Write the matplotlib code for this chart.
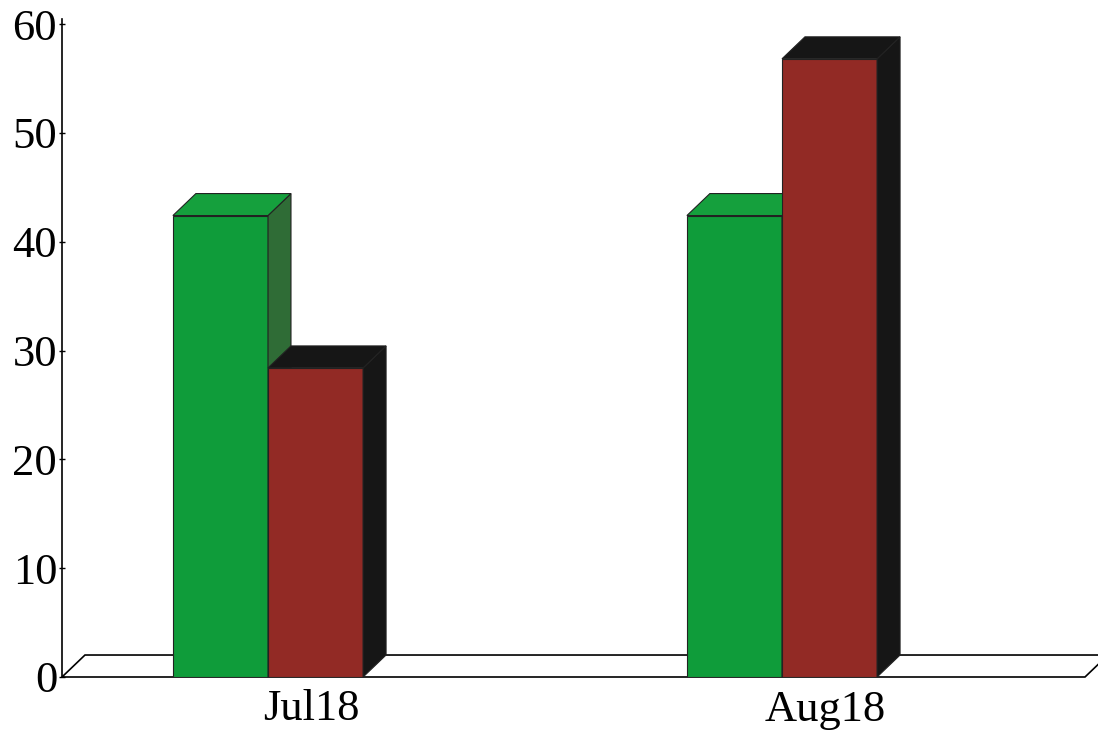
import numpy as np
import matplotlib.pyplot as plt
from matplotlib.patches import Polygon

# data
categories = ["Jul18", "Aug18"]
green_vals = [42.4, 42.4]
red_vals = [28.4, 56.8]
yticks = [0, 10, 20, 30, 40, 50, 60]

plt.rcParams['font.family'] = ['Liberation Serif', 'DejaVu Serif']

fig = plt.figure(figsize=(10.98, 7.36), dpi=100)
ax = fig.add_axes([62 / 1098, 59 / 736, 1036 / 1098, 653 / 736])

x = np.arange(len(categories))
w = 0.185
dx = 0.0447   # depth offset in x data units
dy = 2.02     # depth offset in y data units

green_front = '#0f9c3a'
green_side = '#2f6c36'
green_top = '#15a03d'
red_front = '#922a25'
red_dark = '#161616'

xmin, xmax = -0.4008, 1.6148
ax.set_xlim(xmin, xmax)
ax.set_ylim(0, 60)

# floor
floor_right = 1.5895
floor = Polygon([(xmin, 0), (floor_right, 0), (floor_right + dx, dy), (xmin + dx, dy)],
                closed=True, facecolor='white', edgecolor='black', lw=1.2, zorder=1,
                clip_on=False)
ax.add_patch(floor)


def bar3d(left, h, front, side, top, z):
    ax.bar(left, h, width=w, align='edge', color=front, edgecolor='#222222', lw=0.8, zorder=z)
    r = left + w
    ax.add_patch(Polygon([(r, 0), (r + dx, dy), (r + dx, h + dy), (r, h)], closed=True,
                         facecolor=side, edgecolor='#222222', lw=0.8, zorder=z, clip_on=False))
    ax.add_patch(Polygon([(left, h), (left + dx, h + dy), (r + dx, h + dy), (r, h)], closed=True,
                         facecolor=top, edgecolor='#222222', lw=0.8, zorder=z, clip_on=False))


for i in range(len(categories)):
    bar3d(x[i] - w, green_vals[i], green_front, green_side, green_top, 2 + i * 2)
    bar3d(x[i], red_vals[i], red_front, red_dark, red_dark, 3 + i * 2)

for s in ['top', 'right', 'bottom']:
    ax.spines[s].set_visible(False)
ax.spines['left'].set_linewidth(1.2)
ax.spines['left'].set_bounds(0, 60.5)

ax.set_yticks(yticks)
ax.set_yticklabels([str(t) for t in yticks])
ax.tick_params(axis='y', direction='inout', length=5, width=1, labelsize=32, pad=1)

ax.set_xticks(x + 0.085)
ax.set_xticklabels(categories)
ax.tick_params(axis='x', length=0, labelsize=32, pad=9)

plt.savefig('out.png', dpi=100)
